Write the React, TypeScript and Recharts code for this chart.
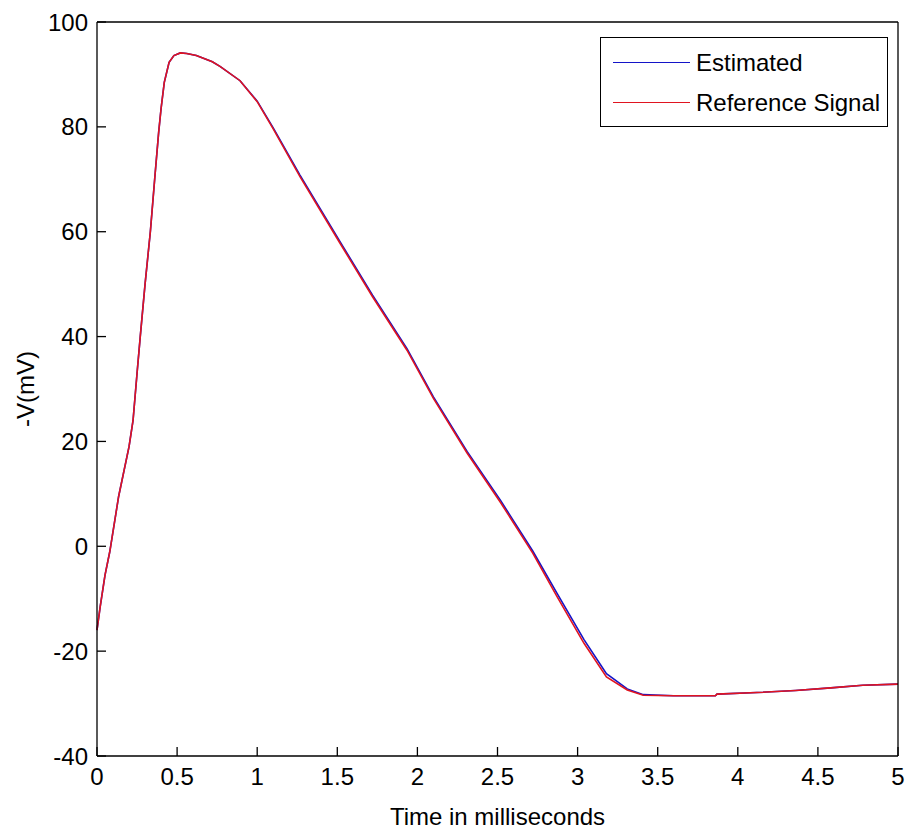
import React from 'react';
import { LineChart, Line, XAxis, YAxis, Legend, Label } from 'recharts';

const timeMs = [0, 0.02, 0.05, 0.08, 0.135, 0.2, 0.225, 0.25, 0.27, 0.3, 0.333, 0.36, 0.385, 0.4, 0.42, 0.45, 0.48, 0.52, 0.56, 0.62, 0.72, 0.77, 0.893, 1.0, 1.1, 1.267, 1.517, 1.72, 1.935, 2.1, 2.31, 2.52, 2.72, 2.87, 3.04, 3.18, 3.31, 3.41, 3.6, 3.86, 3.87, 4.12, 4.36, 4.58, 4.78, 5.0];
const estimated = [-16, -11.5, -5.5, -1, 9.5, 19, 24, 33, 40, 50, 60, 70, 79, 83.5, 88.5, 92.3, 93.6, 94.1, 94.0, 93.6, 92.4, 91.5, 88.8, 84.9, 79.8, 70.8, 58.1, 47.9, 37.7, 28.5, 18.1, 8.7, -0.9, -8.9, -17.8, -24.3, -27.2, -28.3, -28.5, -28.5, -28.2, -27.9, -27.5, -27.0, -26.5, -26.3];
const reference = [-16, -11.5, -5.5, -1, 9.5, 19, 24, 33, 40, 50, 60, 70, 79, 83.5, 88.5, 92.3, 93.6, 94.1, 94.0, 93.6, 92.4, 91.5, 88.8, 84.8, 79.6, 70.5, 57.8, 47.6, 37.4, 28.2, 17.8, 8.3, -1.3, -9.5, -18.5, -24.9, -27.4, -28.4, -28.5, -28.5, -28.2, -27.9, -27.5, -27.0, -26.5, -26.3];

const xTicks = [0, 0.5, 1, 1.5, 2, 2.5, 3, 3.5, 4, 4.5, 5];
const yTicks = [-40, -20, 0, 20, 40, 60, 80, 100];
const seriesNames = ['Estimated', 'Reference Signal'];
const seriesColors = ['#1414c8', '#e01420'];

const data = timeMs.map((t, i) => ({ t, est: estimated[i], ref: reference[i] }));

const FONT = "'Liberation Sans', Arial, sans-serif";

const LegendBox = () => (
  <div
    style={{
      width: 288,
      height: 90,
      border: '1px solid #000',
      background: '#fff',
      boxSizing: 'border-box',
      position: 'relative',
      fontFamily: FONT,
      fontSize: 24,
      color: '#000',
    }}
  >
    {seriesNames.map((n, i) => (
      <div key={n} style={{ position: 'absolute', left: 0, top: i === 0 ? 8 : 48, height: 34, width: '100%' }}>
        <div style={{ position: 'absolute', left: 12, top: 16, width: 77, height: 0, borderTop: `1.5px solid ${seriesColors[i]}` }} />
        <div style={{ position: 'absolute', left: 95, top: 0, lineHeight: '34px', whiteSpace: 'nowrap' }}>{n}</div>
      </div>
    ))}
  </div>
);

export default function App() {
  const tickStyle = { fill: '#000', fontSize: 24, fontFamily: FONT };
  return (
    <div style={{ position: 'absolute', left: 0, top: 0, background: '#fff' }}>
      <LineChart width={906} height={832} data={data} margin={{ top: 21, right: 7, left: 0, bottom: 0 }}>
        <XAxis
          dataKey="t"
          type="number"
          domain={[0, 5]}
          ticks={xTicks}
          interval={0}
          height={76}
          tickSize={-9}
          tickMargin={21}
          tick={tickStyle}
          axisLine={{ stroke: '#000', strokeWidth: 1.3 }}
          tickLine={{ stroke: '#000', strokeWidth: 1.3 }}
        >
          <Label value="Time in milliseconds" position="insideBottom" offset={7} style={{ fill: '#000', fontSize: 24, fontFamily: FONT }} />
        </XAxis>
        <XAxis
          xAxisId="top"
          orientation="top"
          dataKey="t"
          type="number"
          domain={[0, 5]}
          ticks={xTicks}
          interval={0}
          height={1}
          tickSize={-9}
          tick={false}
          axisLine={{ stroke: '#000', strokeWidth: 1.3 }}
          tickLine={{ stroke: '#000', strokeWidth: 1.3 }}
        />
        <YAxis
          type="number"
          domain={[-40, 100]}
          ticks={yTicks}
          interval={0}
          width={97}
          tickSize={-9}
          tickMargin={18}
          tick={tickStyle}
          axisLine={{ stroke: '#000', strokeWidth: 1.3 }}
          tickLine={{ stroke: '#000', strokeWidth: 1.3 }}
        >
          <Label value="-V(mV)" angle={-90} position="insideLeft" offset={25} style={{ fill: '#000', fontSize: 24, fontFamily: FONT, textAnchor: 'middle' }} />
        </YAxis>
        <YAxis
          yAxisId="right"
          orientation="right"
          type="number"
          domain={[-40, 100]}
          ticks={yTicks}
          interval={0}
          width={1}
          tickSize={-9}
          tick={false}
          axisLine={{ stroke: '#000', strokeWidth: 1.3 }}
          tickLine={{ stroke: '#000', strokeWidth: 1.3 }}
        />
        <Legend
          layout="horizontal"
          verticalAlign="middle"
          align="center"
          content={() => <LegendBox />}
          wrapperStyle={{ left: 600, top: 37, width: 288, height: 90 }}
        />
        <Line type="linear" dataKey="est" name={seriesNames[0]} stroke={seriesColors[0]} strokeWidth={1.6} dot={false} isAnimationActive={false} />
        <Line type="linear" dataKey="ref" name={seriesNames[1]} stroke={seriesColors[1]} strokeWidth={1.6} dot={false} isAnimationActive={false} />
      </LineChart>
    </div>
  );
}
